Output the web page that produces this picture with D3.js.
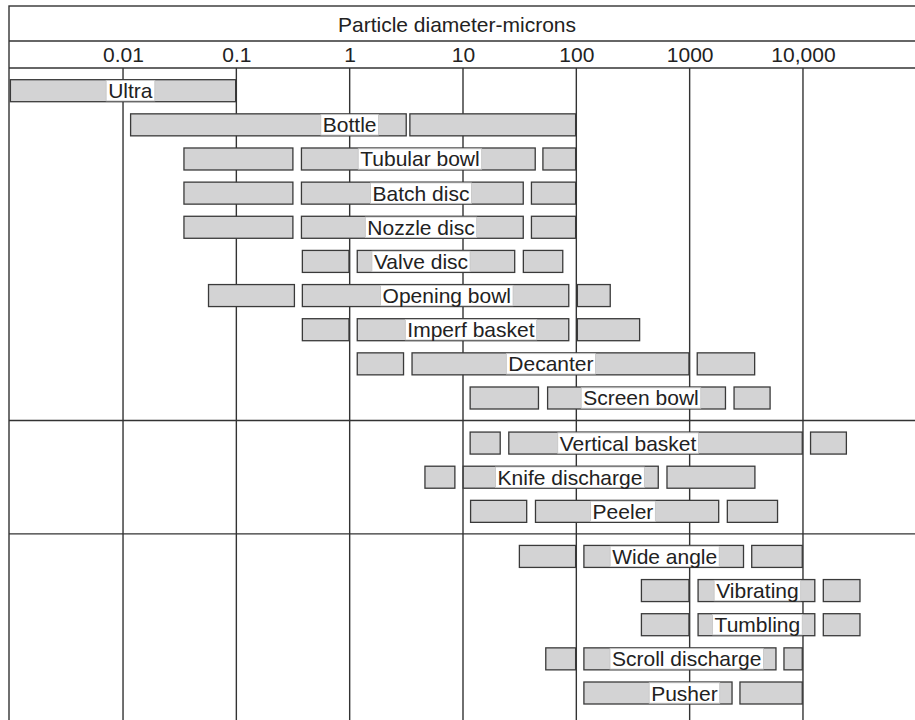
<!DOCTYPE html>
<html>
<head>
<meta charset="utf-8">
<script src="https://cdn.jsdelivr.net/npm/d3@7"></script>
<style>
  html, body { margin: 0; padding: 0; background: #fff; }
  svg { display: block; }
  text { font-family: "Liberation Sans", Arial, Helvetica, sans-serif; fill: #222; }
</style>
</head>
<body>
<svg id="chart" width="915" height="720"></svg>
<script>
// ---- data ----
const title = "Particle diameter-microns";
const tickValues = [0.01, 0.1, 1, 10, 100, 1000, 10000];
const tickLabels = ["0.01", "0.1", "1", "10", "100", "1000", "10,000"];
const categories = [
  "Ultra", "Bottle", "Tubular bowl", "Batch disc", "Nozzle disc", "Valve disc",
  "Opening bowl", "Imperf basket", "Decanter", "Screen bowl",
  "Vertical basket", "Knife discharge", "Peeler",
  "Wide angle", "Vibrating", "Tumbling", "Scroll discharge", "Pusher"
];
const groups = [0,0,0,0,0,0,0,0,0,0, 1,1,1, 2,2,2,2,2];
// size ranges (microns) of each bar segment, per category
const segments = [
  [[0.001, 0.1]],
  [[0.0115, 3.2], [3.35, 100]],
  [[0.034, 0.32], [0.37, 44], [50, 100]],
  [[0.034, 0.32], [0.37, 34.5], [39.6, 100]],
  [[0.034, 0.32], [0.37, 34.5], [39.6, 100]],
  [[0.377, 1], [1.15, 29], [33.6, 77]],
  [[0.056, 0.33], [0.377, 87], [100.7, 202]],
  [[0.377, 1], [1.15, 87], [100.7, 367]],
  [[1.15, 3.03], [3.5, 1000], [1150, 3800]],
  [[11.4, 47], [55, 2100], [2430, 5200]],
  [[11.4, 21.6], [25, 10000], [11500, 24500]],
  [[4.55, 8.6], [9.9, 536], [622, 3820]],
  [[11.5, 37], [43, 1830], [2120, 6050]],
  [[31, 100], [115, 3030], [3480, 10000]],
  [[370, 1000], [1170, 12900], [14900, 32300]],
  [[370, 1000], [1170, 12900], [14900, 32300]],
  [[53, 100], [115, 5860], [6700, 10000]],
  [[115, 2400], [2740, 10000]]
];
// label centre position (microns)
const labelAt = [0.0116, 1, 4.17, 4.26, 4.26, 4.26, 7.2, 11.75, 59.7, 372,
                 286, 87.9, 258, 602, 3963, 3963, 942, 900];

(function () {
// ---- layout ----
const W = 915, H = 720;
const frameLeft = 9, frameTop = 6, titleBottom = 41, headBottom = 68;
const groupGap = 0.32;
const svg = d3.select("#chart");

const x = d3.scaleLog().domain([0.001, 100000]).range([9.7, 916.3]);
const pos = categories.map((c, i) => i + groups[i] * groupGap);
const y = d3.scaleLinear().domain([0, 17 + 2 * groupGap]).range([90.7, 693]);
const barH = 22;
const stroke = "#333";

// frame
svg.append("rect").attr("x", frameLeft).attr("y", frameTop)
  .attr("width", W + 10).attr("height", H + 10)
  .attr("fill", "#fff").attr("stroke", stroke).attr("stroke-width", 1.4);
[titleBottom, headBottom].forEach(yy => {
  svg.append("line").attr("x1", frameLeft).attr("x2", W).attr("y1", yy).attr("y2", yy)
    .attr("stroke", stroke).attr("stroke-width", 1.4);
});

// title
svg.append("text").attr("x", 457).attr("y", 31.5)
  .attr("text-anchor", "middle").attr("font-size", 21).text(title);

// axis (tick labels + gridlines)
const axis = d3.axisTop(x).tickValues(tickValues)
  .tickFormat((d, i) => tickLabels[i]).tickSize(0).tickPadding(0);
const ag = svg.append("g").attr("transform", "translate(0,61.5)").call(axis);
ag.select(".domain").remove();
ag.selectAll("text").attr("font-size", 21).attr("font-family", "Liberation Sans, Arial, sans-serif")
  .attr("fill", "#222").attr("dy", 0);

svg.append("g").selectAll("line").data(tickValues).join("line")
  .attr("x1", d => x(d)).attr("x2", d => x(d))
  .attr("y1", headBottom).attr("y2", H)
  .attr("stroke", stroke).attr("stroke-width", 1.4);

// group separators
const sepPos = [9 + (groupGap + 1) / 2, 12 + groupGap + (groupGap + 1) / 2];
svg.append("g").selectAll("line").data(sepPos).join("line")
  .attr("x1", frameLeft).attr("x2", W)
  .attr("y1", d => y(d)).attr("y2", d => y(d))
  .attr("stroke", stroke).attr("stroke-width", 1.4);

// bars
const rows = svg.append("g").selectAll("g").data(categories).join("g")
  .attr("transform", (d, i) => `translate(0,${y(pos[i])})`);

rows.each(function (cat, i) {
  const g = d3.select(this);
  g.selectAll("rect.seg").data(segments[i]).join("rect")
    .attr("class", "seg")
    .attr("x", d => x(d[0]) + 0.7)
    .attr("width", d => x(d[1]) - x(d[0]) - 1.4)
    .attr("y", -barH / 2).attr("height", barH)
    .attr("fill", "#d3d3d4").attr("stroke", "#3a3a3a").attr("stroke-width", 1.3);

  const t = g.append("text").attr("x", x(labelAt[i])).attr("y", 7.5)
    .attr("text-anchor", "middle").attr("font-size", 21).text(cat);
  const bb = t.node().getBBox();
  g.insert("rect", "text")
    .attr("x", bb.x - 2).attr("width", bb.width + 4)
    .attr("y", -barH / 2 + 0.8).attr("height", barH - 1.6)
    .attr("fill", "#fff").attr("stroke", "#c4c4c4").attr("stroke-width", 0.8);
});
})();
</script>
</body>
</html>
